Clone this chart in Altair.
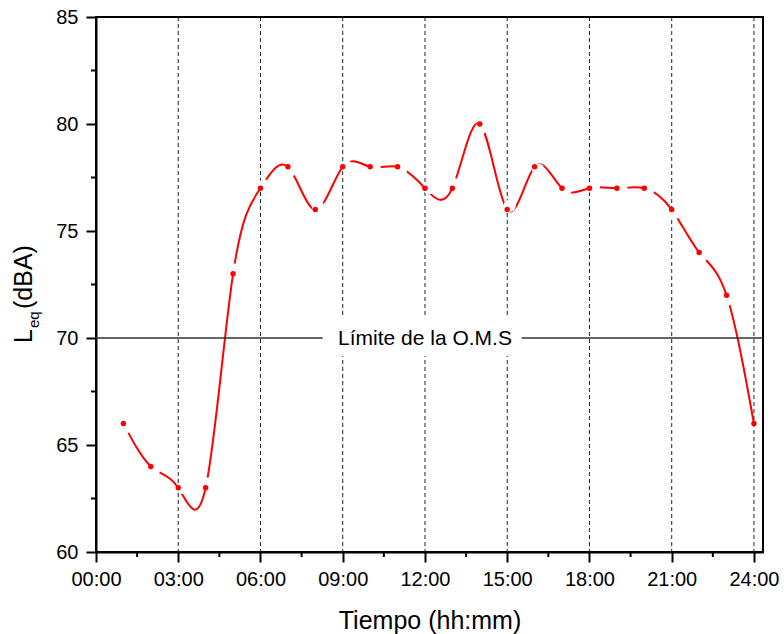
import altair as alt
import pandas as pd

# ---------------- data ----------------
hours = list(range(1, 25))
leq = [66, 64, 63, 63, 73, 77, 78, 76, 78, 78, 78, 77,
       77, 80, 76, 78, 77, 77, 77, 77, 76, 74, 72, 66]

x_ticks = [0, 3, 6, 9, 12, 15, 18, 21, 24]
x_minor = [1.5, 4.5, 7.5, 10.5, 13.5, 16.5, 19.5, 22.5]
y_ticks = [60, 65, 70, 75, 80, 85]
y_minor = [62.5, 67.5, 72.5, 77.5, 82.5]
grid_hours = [3, 6, 9, 12, 15, 18, 21, 24]
limit_value = [70]
limit_hour = [12]
limit_label = ["Límite de la O.M.S"]
y_title_parts = ["L", "eq", "(dBA)"]
x_title = "Tiempo (hh:mm)"

# ---------------- layout ----------------
W, H = 667, 535
XMAX = 24.33
FONT = "Liberation Sans"
px_h = W / XMAX
px_v = H / 25.0

df = pd.DataFrame({"hour": hours, "leq": leq})

# white "gap" halos placed just after each point, along the chord to the next point
nh = df["hour"].shift(-1)
nv = df["leq"].shift(-1)
dist = (((nh - df["hour"]) * px_h) ** 2 + ((nv - df["leq"]) * px_v) ** 2) ** 0.5
off = 4.5
halo = pd.DataFrame({
    "hour": df["hour"] + (nh - df["hour"]) * off / dist,
    "leq": df["leq"] + (nv - df["leq"]) * off / dist,
}).dropna()

xs = alt.Scale(domain=[0, XMAX], nice=False, zero=False)
ys = alt.Scale(domain=[60, 85], nice=False, zero=False)

x_axis = alt.Axis(values=x_ticks, grid=False, tickSize=10, tickWidth=2, tickColor="black",
                  domainColor="black", domainWidth=2,
                  labelExpr="(datum.value < 10 ? '0' : '') + datum.value + ':00'",
                  labelFont=FONT, labelFontSize=20, labelColor="black", labelPadding=7,
                  labelFlush=False, labelOverlap=False,
                  title=x_title, titleFont=FONT, titleFontSize=25, titleFontWeight="normal",
                  titleColor="black", titlePadding=19)
y_axis = alt.Axis(values=y_ticks, grid=False, tickSize=10, tickWidth=2, tickColor="black",
                  domainColor="black", domainWidth=2,
                  labelFont=FONT, labelFontSize=20, labelColor="black", labelPadding=8,
                  labelFlush=False, labelOverlap=False, title=None)


def X(field="hour"):
    return alt.X(f"{field}:Q", scale=xs, axis=x_axis, title=x_title)


def Y(field="leq"):
    return alt.Y(f"{field}:Q", scale=ys, axis=y_axis, title=None)


grid = alt.Chart(pd.DataFrame({"hour": grid_hours})).mark_rule(
    color="#222222", strokeDash=[4, 3], strokeWidth=1
).encode(x=X())

line = alt.Chart(df).mark_line(interpolate="natural", color="#ff0000", strokeWidth=2).encode(
    x=X(), y=Y()
)

halos = alt.Chart(halo).mark_circle(color="white", opacity=1, size=150).encode(x=X(), y=Y())

limit_df = pd.DataFrame({"leq": limit_value, "hour": limit_hour, "label": limit_label})

limit_rule = alt.Chart(limit_df).mark_rule(color="#333333", strokeWidth=1.3).encode(y=Y())

label_bg = alt.Chart(limit_df).mark_rect(color="white").encode(
    x=alt.value(226.7), x2=alt.value(425.7), y=alt.value(300), y2=alt.value(339)
)

label_text = alt.Chart(limit_df).mark_text(
    font=FONT, fontSize=21, color="black", baseline="middle", align="center", dy=1
).encode(x=X(), y=Y(), text="label:N")

points = alt.Chart(df).mark_circle(color="#ff0000", opacity=1, size=30).encode(x=X(), y=Y())

xminor = alt.Chart(pd.DataFrame({"hour": x_minor})).mark_rule(color="black", strokeWidth=2).encode(
    x=X(), y=alt.value(H), y2=alt.value(H + 5)
)
yminor = alt.Chart(pd.DataFrame({"leq": y_minor})).mark_rule(color="black", strokeWidth=2).encode(
    y=Y(), x=alt.value(0), x2=alt.value(-5)
)

title_L = alt.Chart(pd.DataFrame({"t": [y_title_parts[0]]})).mark_text(
    font=FONT, fontSize=25, color="black", angle=270, align="left", baseline="alphabetic"
).encode(x=alt.value(-64), y=alt.value(326), text="t:N")
title_sub = alt.Chart(pd.DataFrame({"t": [y_title_parts[1]]})).mark_text(
    font=FONT, fontSize=15, color="black", angle=270, align="left", baseline="alphabetic"
).encode(x=alt.value(-57.5), y=alt.value(311), text="t:N")
title_rest = alt.Chart(pd.DataFrame({"t": [y_title_parts[2]]})).mark_text(
    font=FONT, fontSize=25, color="black", angle=270, align="left", baseline="alphabetic"
).encode(x=alt.value(-64), y=alt.value(292), text="t:N")

chart = alt.layer(
    grid, line, halos, limit_rule, label_bg, label_text, points,
    xminor, yminor, title_L, title_sub, title_rest
).properties(
    width=W, height=H,
    autosize=alt.AutoSizeParams(type="none"),
    padding={"left": 96, "top": 17, "right": 21, "bottom": 82},
    background="white",
).configure_view(stroke="black", strokeWidth=2)

chart.save("out.html", embed_options={"renderer": "svg", "actions": False})
